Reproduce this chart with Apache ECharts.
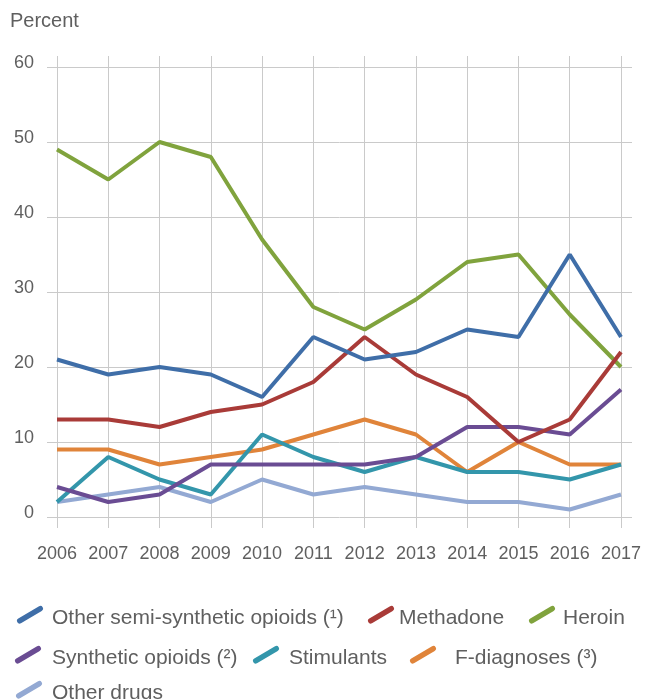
<!DOCTYPE html>
<html><head><meta charset="utf-8">
<script src="https://cdn.jsdelivr.net/npm/echarts@6/dist/echarts.min.js"></script>
<style>html,body{margin:0;padding:0;background:#fff}#c{width:648px;height:699px}</style>
</head><body><div id="c"></div>
<script>
const years = ['2006','2007','2008','2009','2010','2011','2012','2013','2014','2015','2016','2017'];
const yTicks = [0,10,20,30,40,50,60];
const semiSynthetic = [21,19,20,19,16,24,21,22,25,24,35,24];
const methadone = [13,13,12,14,15,18,24,19,16,10,13,22];
const heroin = [49,45,50,48,37,28,25,29,34,35,27,20];
const synthetic = [4,2,3,7,7,7,7,8,12,12,11,17];
const stimulants = [2,8,5,3,11,8,6,8,6,6,5,7];
const fDiagnoses = [9,9,7,8,9,11,13,11,6,10,7,7];
const otherDrugs = [2,3,4,2,5,3,4,3,2,2,1,3];

const names = ['Other semi-synthetic opioids (¹)','Methadone','Heroin','Synthetic opioids (²)','Stimulants','F-diagnoses (³)','Other drugs'];
const colors = ['#3f6ea8','#a93b38','#80a33d','#6a4c93','#3396ab','#e0843a','#93a9d3'];
const values = [semiSynthetic,methadone,heroin,synthetic,stimulants,fDiagnoses,otherDrugs];

const FONT = '"Liberation Sans", Arial, sans-serif';
const TXT = '#5f5f5f';
// diagonal stroke icon; a tiny sub-path at the bottom extends the box so the label sits lower
const icon = 'path://M0.6,12.6 L22.6,-0.4 A2.7,2.7 0 0 1 25.4,4.4 L3.4,17.4 A2.7,2.7 0 0 1 0.6,12.6 Z M13,25.6 L13.01,25.6 L13.01,25.61 Z';
// legend placement: [left, top, extra text gap]
const legendPos = [[17,606,4],[368,606,0],[529,606,3],[15,646,6],[253,646,5],[410,646,14],[16,681,5]];
const legends = names.map((n,i) => ({
  data: [n], left: legendPos[i][0], top: legendPos[i][1], padding: 0,
  icon: icon, itemWidth: 26, itemHeight: 26, selectedMode: false,
  textStyle: {fontFamily: FONT, fontSize: 21, color: TXT, padding: [0,0,0,legendPos[i][2]]}
}));
const chart = echarts.init(document.getElementById('c'), null, {renderer:'canvas'});
chart.setOption({
  animation: false,
  backgroundColor: '#fff',
  color: colors,
  grid: [
    {left: 47, right: 16, top: 67, bottom: 182},
    {left: 57, right: 27, top: 56, bottom: 171}
  ],
  xAxis: [
    {gridIndex: 0, type: 'value', min: 0, max: 1, show: false},
    {gridIndex: 1, type: 'category', data: years, boundaryGap: false,
     axisLine: {show: false}, axisTick: {show: false},
     axisLabel: {fontFamily: FONT, fontSize: 18, color: TXT, margin: 17, interval: 0},
     splitLine: {show: true, interval: 0, lineStyle: {color: '#cacaca', width: 1}}}
  ],
  yAxis: [
    {gridIndex: 0, type: 'value', min: 0, max: 60, interval: 10,
     name: 'Percent', nameLocation: 'end', nameGap: 0,
     nameTextStyle: {fontFamily: FONT, fontSize: 20, color: TXT, align: 'left', padding: [0,0,36,-37]},
     axisLine: {show: false}, axisTick: {show: false},
     axisLabel: {fontFamily: FONT, fontSize: 18, color: TXT, margin: 13, verticalAlign: 'bottom', lineHeight: 8},
     splitLine: {show: true, lineStyle: {color: '#cacaca', width: 1}}},
    {gridIndex: 1, type: 'value', min: -11/7.5, max: 60 + 11/7.5, show: false}
  ],
  legend: legends,
  series: names.map((n,i) => ({
    name: n, type: 'line', xAxisIndex: 1, yAxisIndex: 1,
    data: values[i], symbol: 'none', smooth: false,
    lineStyle: {width: 4, color: colors[i]},
    itemStyle: {color: colors[i]},
    z: 10 - i
  }))
});
</script></body></html>
